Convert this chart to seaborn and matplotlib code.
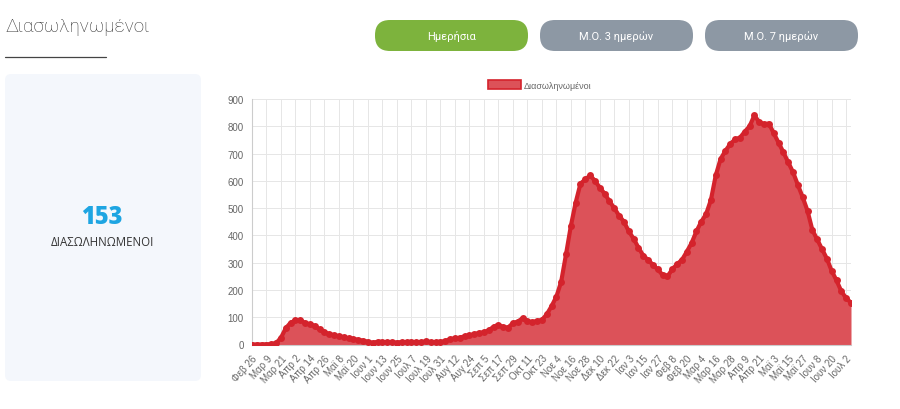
import matplotlib

matplotlib.use("Agg")
import matplotlib.pyplot as plt
import numpy as np
import pandas as pd
import seaborn as sns
from matplotlib.patches import FancyBboxPatch, Patch

# daily series sampled every 4 days, 2020-02-26 .. 2021-07-06
start_date = "2020-02-26"
step_days = 4
intubated = [
    0, 0, 0, 0, 2, 5, 25, 60, 80, 88, 90, 78, 74, 68, 55, 45,
    38, 34, 30, 27, 22, 20, 17, 14, 10, 6, 10, 9, 8, 8, 7, 9,
    8, 10, 8, 9, 11, 9, 8, 10, 12, 20, 22, 25, 30, 33, 38, 42,
    45, 52, 65, 72, 64, 62, 78, 84, 96, 85, 82, 86, 90, 110, 140, 175,
    230, 330, 434, 520, 590, 605, 620, 600, 575, 553, 525, 500, 472, 450, 415, 388,
    355, 326, 310, 292, 275, 255, 250, 275, 295, 310, 340, 372, 415, 450, 478, 530,
    620, 680, 710, 735, 752, 758, 780, 800, 840, 815, 808, 810, 775, 740, 705, 668,
    632, 585, 540, 490, 420, 385, 350, 315, 270, 235, 195, 170, 153,
]
tick_labels = [
    "Φεβ 26", "Μαρ 9", "Μαρ 21", "Απρ 2", "Απρ 14", "Απρ 26", "Μαϊ 8", "Μαϊ 20",
    "Ιουν 1", "Ιουν 13", "Ιουν 25", "Ιουλ 7", "Ιουλ 19", "Ιουλ 31", "Αυγ 12", "Αυγ 24",
    "Σεπ 5", "Σεπ 17", "Σεπ 29", "Οκτ 11", "Οκτ 23", "Νοε 4", "Νοε 16", "Νοε 28",
    "Δεκ 10", "Δεκ 22", "Ιαν 3", "Ιαν 15", "Ιαν 27", "Φεβ 8", "Φεβ 20", "Μαρ 4",
    "Μαρ 16", "Μαρ 28", "Απρ 9", "Απρ 21", "Μαϊ 3", "Μαϊ 15", "Μαϊ 27", "Ιουν 8",
    "Ιουν 20", "Ιουλ 2",
]
tick_step_days = 12
buttons = ["Ημερήσια", "Μ.Ο. 3 ημερών", "Μ.Ο. 7 ημερών"]
title = "Διασωληνωμένοι"
current_value = "153"
current_label = "ΔΙΑΣΩΛΗΝΩΜΕΝΟΙ"

sns.set_theme(style="white")
plt.rcParams["font.family"] = ["Roboto", "DejaVu Sans"]
chart_font = ["Liberation Sans", "DejaVu Sans"]

df = pd.DataFrame(
    {
        "date": pd.date_range(start_date, periods=len(intubated), freq=f"{step_days}D"),
        "value": intubated,
    }
)
tick_dates = pd.date_range(start_date, periods=len(tick_labels), freq=f"{tick_step_days}D")

fig = plt.figure(figsize=(9, 4.1), dpi=100)
fig.patch.set_facecolor("white")

# page decoration in pixel coordinates
bg = fig.add_axes([0, 0, 1, 1], zorder=0)
bg.set_xlim(0, 900)
bg.set_ylim(410, 0)
bg.axis("off")

bg.text(5, 27, title, fontsize=13.5, color="#333333", fontweight="light", va="center", ha="left")
bg.plot([5, 106], [58, 58], color="#444444", linewidth=0.9)

btn_colors = ["#7db33d", "#8d98a4", "#8d98a4"]
btn_x = [375, 540, 705]
for label, col, x0 in zip(buttons, btn_colors, btn_x):
    bg.add_patch(
        FancyBboxPatch(
            (x0, 21), 153, 31,
            boxstyle="round,pad=0,rounding_size=15",
            facecolor=col, edgecolor="none",
        )
    )
    bg.text(x0 + 76.5, 36.5, label, fontsize=8, color="white", ha="center", va="center")

bg.add_patch(
    FancyBboxPatch(
        (5, 75), 196, 307,
        boxstyle="round,pad=0,rounding_size=6",
        facecolor="#f4f7fc", edgecolor="none",
    )
)
bg.text(102, 218, current_value, fontsize=17, fontweight="heavy", color="#1ea5e2",
        ha="center", va="center", family=["Open Sans", "DejaVu Sans"])
bg.text(102, 243, current_label, fontsize=8.3, color="#333333", ha="center", va="center",
        family=["Open Sans", "DejaVu Sans"])

# chart
ax = fig.add_axes([252 / 900, 1 - 345.5 / 410, 599 / 900, 245.5 / 410], zorder=1)
ax.set_facecolor("none")

fill_color = "#dc5259"
line_color = "#d4232c"
ax.fill_between(df["date"], df["value"], 0, color=fill_color, linewidth=0, zorder=2)
sns.lineplot(
    data=df, x="date", y="value", ax=ax,
    color=line_color, linewidth=3, marker="o", markersize=5,
    markeredgewidth=0, zorder=3,
)

ax.set_xlim(df["date"].iloc[0], df["date"].iloc[-1])
ax.set_ylim(0, 900)
ax.set_yticks(np.arange(0, 901, 100))
ax.set_xticks(tick_dates)
ax.set_xticklabels(tick_labels, rotation=48, ha="right", rotation_mode="anchor")
ax.tick_params(axis="both", labelsize=7, colors="#666666", length=4, width=0.6,
               color="#dddddd", pad=2)
for lbl in ax.get_xticklabels() + ax.get_yticklabels():
    lbl.set_family(chart_font)
ax.set_xlabel("")
ax.set_ylabel("")
ax.grid(True, color="#e6e6e6", linewidth=0.7)
ax.set_axisbelow(True)
for side in ["top", "right"]:
    ax.spines[side].set_visible(False)
for side in ["left", "bottom"]:
    ax.spines[side].set_color("#cccccc")
    ax.spines[side].set_linewidth(0.8)

fig.legend(
    handles=[Patch(facecolor=fill_color, edgecolor=line_color, linewidth=1.2, label=title)],
    loc="center",
    bbox_to_anchor=(540 / 900, 1 - 86 / 410),
    frameon=False,
    prop={"family": chart_font, "size": 6.5},
    handlelength=3.6,
    handleheight=1.0,
    handletextpad=0.4,
    labelcolor="#666666",
)

fig.savefig("out.png", dpi=100)
plt.close(fig)
